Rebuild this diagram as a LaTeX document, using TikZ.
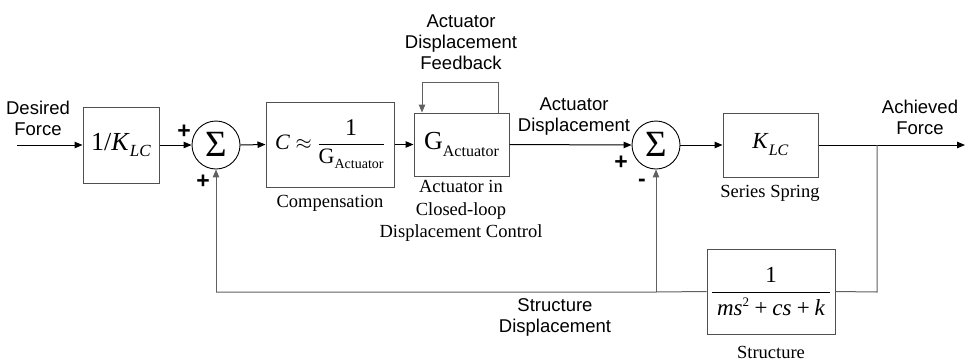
\documentclass[tikz,border=0pt]{standalone}
\usepackage{fontspec}
\setmainfont{Liberation Serif}
\setsansfont{Liberation Sans}
\usetikzlibrary{arrows.meta}

\definecolor{boxgray}{HTML}{505050}
\definecolor{fbgray}{HTML}{606060}

\tikzset{
  blk/.style={draw=boxgray, line width=1pt, inner sep=0pt},
  sumnode/.style={circle, draw, line width=0.9pt, minimum size=48pt, inner sep=0pt,
    font=\fontsize{37}{37}\selectfont},
  sig/.style={-{Triangle[length=8pt,width=6.5pt]}, line width=1pt},
  fbline/.style={draw=fbgray, line width=1pt},
  fbsig/.style={fbline, -{Triangle[length=8pt,width=6.5pt]}},
  sanslbl/.style={font=\sffamily\fontsize{18.5}{21}\selectfont, align=center, inner sep=0pt},
  seriflbl/.style={font=\fontsize{18.5}{22.5}\selectfont, align=center, inner sep=0pt},
  signlbl/.style={font=\sffamily\bfseries\fontsize{23}{23}\selectfont, inner sep=0pt},
}

\begin{document}
\begin{tikzpicture}[x=1pt, y=-1pt]
  \path[use as bounding box] (0,0) rectangle (965,362);

  % forward path blocks
  \node[blk, minimum width=76pt, minimum height=76pt] (gain) at (121,145)
    {\fontsize{26}{26}\selectfont 1/\textit{K}\raisebox{-6pt}{\fontsize{17}{17}\selectfont\textit{LC}}};
  \node[sumnode] (sum1) at (216,145) {\raisebox{1pt}{Σ}};
  \node[blk, minimum width=128pt, minimum height=85pt] (comp) at (330,144.5)
    {\fontsize{22}{22}\selectfont $\displaystyle\mbox{\itshape C}\approx\frac{\mbox{\fontsize{24}{24}\selectfont 1}}{\mbox{G\raisebox{-5pt}{\fontsize{14}{14}\selectfont Actuator}}}$};
  \node[blk, minimum width=95pt, minimum height=63pt] (act) at (461.5,144.5)
    {\fontsize{26}{26}\selectfont G\raisebox{-7pt}{\fontsize{16}{16}\selectfont Actuator}};
  \node[sumnode] (sum2) at (656,145) {\raisebox{1pt}{Σ}};
  \node[blk, minimum width=95pt, minimum height=64pt] (spring) at (770.5,145)
    {\fontsize{23}{23}\selectfont\textit{K}\raisebox{-7pt}{\fontsize{16}{16}\selectfont\textit{LC}}};
  \node[blk, minimum width=128pt, minimum height=85pt] (struct) at (771,291.5)
    {\fontsize{23}{23}\selectfont $\displaystyle\frac{\makebox[118pt]{1}}{\makebox[118pt]{\itshape ms\raisebox{9pt}{\upshape\fontsize{13}{13}\selectfont 2}\,+\,cs\,+\,k}}$};

  % connection points
  \coordinate (in) at (17,145);
  \coordinate (branch) at (877,145);
  \coordinate (out) at (965,145);
  \coordinate (brdown) at (877,292);
  \coordinate (tap2) at (656,292);
  \coordinate (tap1) at (216,292);
  \coordinate (loopR) at (498,82);
  \coordinate (loopL) at (422,82);

  % forward signals
  \draw[sig] (in) -- (gain.west);
  \draw[sig] (gain.east) -- (sum1.west);
  \draw[sig] (sum1.east) -- (comp.west);
  \draw[sig] (comp.east) -- (act.west);
  \draw[sig] (act.east) -- (sum2.west);
  \draw[sig] (sum2.east) -- (spring.west);
  \draw[line width=1pt] (spring.east) -- (branch);
  \draw[sig] (branch) -- (out);

  % inner displacement loop of the actuator
  \draw[fbsig] (act.north -| loopR) -- (loopR) -- (loopL) -- (act.north -| loopL);

  % structure feedback
  \draw[fbline] (branch) -- (brdown) -- (struct.east);
  \draw[fbline] (struct.west) -- (tap2) -- (tap1);
  \draw[fbsig] (tap2) -- (sum2.south);
  \draw[fbsig] (tap1) -- (sum1.south);

  % signs at the summing junctions
  \node[signlbl] at (184,132) {+};
  \node[signlbl] at (203,182) {+};
  \node[signlbl] at (621,163) {+};
  \node[signlbl] at (642,183) {-};

  % signal names
  \node[sanslbl] at (38,118) {Desired\\Force};
  \node[sanslbl] at (461,42) {Actuator\\Displacement\\Feedback};
  \node[sanslbl] at (574,117) {Actuator\\Displacement};
  \node[sanslbl] at (920,117) {Achieved\\Force};
  \node[sanslbl] at (555,317) {Structure\\Displacement};

  % block names
  \node[seriflbl] at (330,203) {Compensation};
  \node[seriflbl] at (461,211) {Actuator in\\Closed-loop\\Displacement Control};
  \node[seriflbl] at (770,193) {Series Spring};
  \node[seriflbl] at (771,352) {Structure};
\end{tikzpicture}
\end{document}
